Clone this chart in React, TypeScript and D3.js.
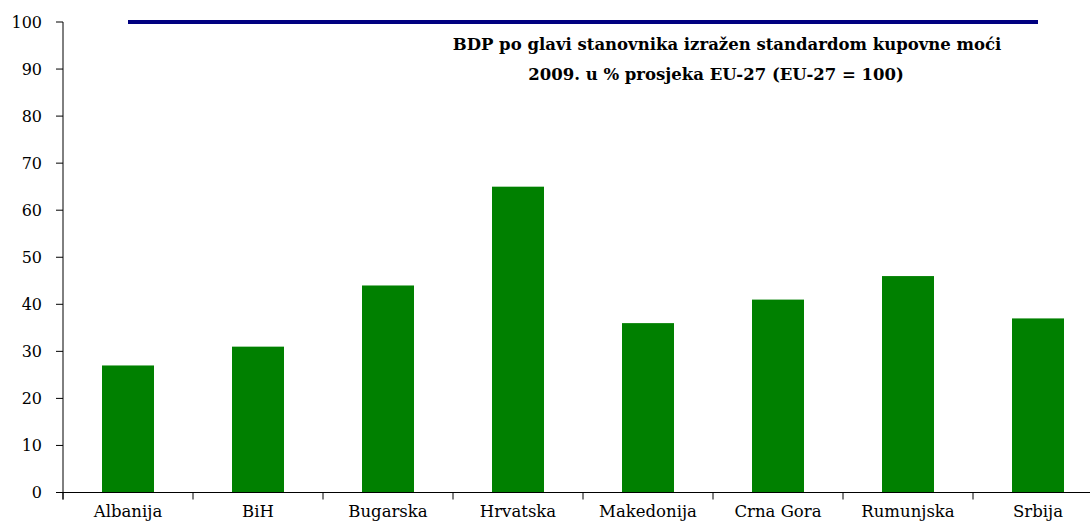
import { useEffect, useRef } from 'react'
import * as d3 from 'd3'

const countries = ['Albanija', 'BiH', 'Bugarska', 'Hrvatska', 'Makedonija', 'Crna Gora', 'Rumunjska', 'Srbija']
const gdpPps = [27, 31, 44, 65, 36, 41, 46, 37]
const euLevel = 100
const yTicks = [0, 10, 20, 30, 40, 50, 60, 70, 80, 90, 100]
const titleLines = [
  'BDP po glavi stanovnika izražen standardom kupovne moći',
  '2009. u % prosjeka EU-27 (EU-27 = 100)'
]

const font = '"DejaVu Serif", Georgia, serif'

const App = () => {
  const ref = useRef<SVGSVGElement>(null)

  useEffect(() => {
    const svg = d3.select(ref.current)
    svg.selectAll('*').remove()

    const left = 63
    const x = d3.scaleBand().domain(countries).range([left, left + 130 * countries.length]).paddingInner(0.6).paddingOuter(0.3)
    const y = d3.scaleLinear().domain([0, 100]).range([492.5, 22])

    // bars
    svg.append('g')
      .selectAll('rect')
      .data(countries)
      .enter()
      .append('rect')
      .attr('x', (d) => x(d)!)
      .attr('width', x.bandwidth())
      .attr('y', (d, i) => y(gdpPps[i]))
      .attr('height', (d, i) => y(0) - y(gdpPps[i]))
      .attr('fill', '#008000')

    // EU-27 reference line
    const first = countries[0]
    const last = countries[countries.length - 1]
    svg.append('line')
      .attr('x1', x(first)! + x.bandwidth() / 2)
      .attr('x2', x(last)! + x.bandwidth() / 2)
      .attr('y1', y(euLevel))
      .attr('y2', y(euLevel))
      .attr('stroke', '#000080')
      .attr('stroke-width', 4)

    // y axis
    const yAxis = svg.append('g')
    yAxis.append('line')
      .attr('x1', left).attr('x2', left)
      .attr('y1', y(100)).attr('y2', y(0) + 7)
      .attr('stroke', '#000').attr('stroke-width', 1)
    yTicks.forEach((t) => {
      yAxis.append('line')
        .attr('x1', left - 7).attr('x2', left)
        .attr('y1', y(t)).attr('y2', y(t))
        .attr('stroke', '#000')
      yAxis.append('text')
        .attr('x', 42).attr('y', y(t))
        .attr('dy', '0.35em')
        .attr('text-anchor', 'end')
        .attr('font-family', font)
        .attr('font-size', 16)
        .attr('fill', '#000')
        .text(t)
    })

    // x axis
    const xAxis = svg.append('g')
    xAxis.append('line')
      .attr('x1', left).attr('x2', 1090)
      .attr('y1', y(0)).attr('y2', y(0))
      .attr('stroke', '#000')
    countries.forEach((c, i) => {
      const bx = left + 130 * i
      xAxis.append('line')
        .attr('x1', bx).attr('x2', bx)
        .attr('y1', y(0)).attr('y2', y(0) + 7)
        .attr('stroke', '#000')
      xAxis.append('text')
        .attr('x', x(c)! + x.bandwidth() / 2)
        .attr('y', 517)
        .attr('text-anchor', 'middle')
        .attr('font-family', font)
        .attr('font-size', 16.5)
        .attr('fill', '#000')
        .text(c)
    })

    // title
    svg.append('g')
      .selectAll('text')
      .data(titleLines)
      .enter()
      .append('text')
      .attr('x', (d, i) => (i === 0 ? 727 : 716))
      .attr('y', (d, i) => 50 + i * 30)
      .attr('text-anchor', 'middle')
      .attr('font-family', font)
      .attr('font-weight', 'bold')
      .attr('font-size', 16.5)
      .attr('fill', '#000')
      .text((d) => d)
  }, [])

  return (
    <svg
      ref={ref}
      width={1090}
      height={522}
      style={{ position: 'absolute', left: 0, top: 0, background: '#fff' }}
    />
  )
}

export default App
